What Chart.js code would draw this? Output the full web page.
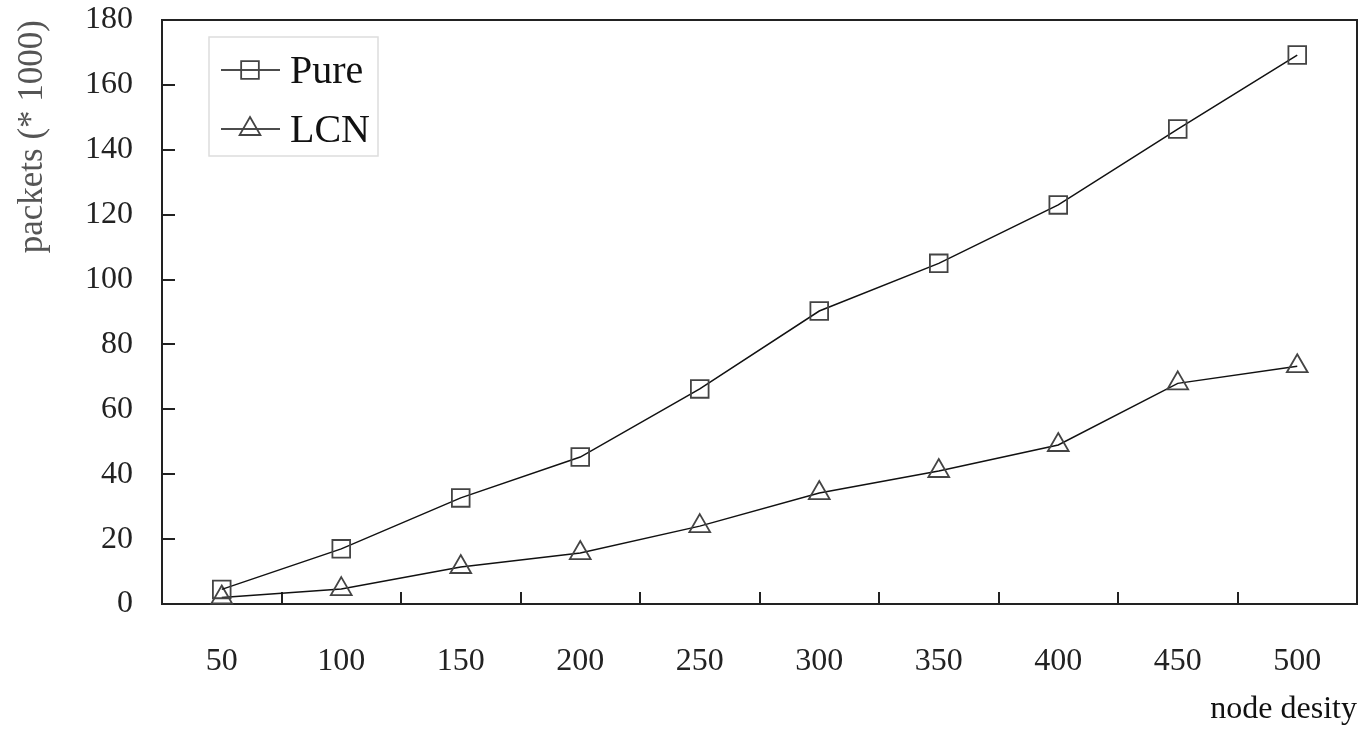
<!DOCTYPE html>
<html>
<head>
<meta charset="utf-8">
<script src="https://cdn.jsdelivr.net/npm/chart.js@4/dist/chart.umd.min.js"></script>
<style>
  html, body { margin: 0; padding: 0; background: #fff; }
  #chartContainer { display: block; }
</style>
</head>
<body>
<canvas id="chartContainer" width="1359" height="729"></canvas>
<script>
"use strict";

// 1: data
const categories = ['50', '100', '150', '200', '250', '300', '350', '400', '450', '500'];
const pureValues = [4.5, 17, 32.7, 45.3, 66.3, 90.3, 105, 123, 146.4, 169.2];
const lcnValues = [2, 4.6, 11.4, 15.7, 24, 34.2, 41, 49, 68, 73.3];
const yTicks = [0, 20, 40, 60, 80, 100, 120, 140, 160, 180];

const serif = 'Liberation Serif, Times New Roman, serif';

// 2: frame with inward tick marks
const framePlugin = {
  id: 'frame',
  beforeDatasetsDraw(chart) {
    const ctx = chart.ctx;
    const a = chart.chartArea;
    const x = chart.scales.x;
    const y = chart.scales.y;
    ctx.save();
    ctx.strokeStyle = '#222';
    ctx.lineWidth = 2;
    ctx.strokeRect(a.left, a.top, a.right - a.left, a.bottom - a.top);
    ctx.beginPath();
    for (let i = 1; i < categories.length; i++) {
      const px = Math.round(x.getPixelForValue(i - 0.5));
      ctx.moveTo(px, a.bottom);
      ctx.lineTo(px, a.bottom - 12);
    }
    for (const v of yTicks) {
      if (v === yTicks[0] || v === yTicks[yTicks.length - 1]) continue;
      const py = Math.round(y.getPixelForValue(v));
      ctx.moveTo(a.left, py);
      ctx.lineTo(a.left + 13, py);
    }
    ctx.stroke();
    ctx.restore();
  }
};

// 3: legend box inside the plot
const legendPlugin = {
  id: 'boxLegend',
  afterDraw(chart) {
    const ctx = chart.ctx;
    const a = chart.chartArea;
    const bx = a.left + 47, by = a.top + 17;
    ctx.save();
    ctx.strokeStyle = '#ddd';
    ctx.lineWidth = 1.5;
    ctx.strokeRect(bx, by, 169, 119);
    chart.data.datasets.forEach((ds, i) => {
      const cy = by + 33 + i * 59;
      ctx.strokeStyle = ds.borderColor;
      ctx.lineWidth = ds.borderWidth;
      ctx.beginPath();
      ctx.moveTo(bx + 12, cy);
      ctx.lineTo(bx + 71, cy);
      ctx.stroke();
      ctx.strokeStyle = ds.pointBorderColor;
      ctx.fillStyle = 'rgba(0,0,0,0)';
      ctx.lineWidth = ds.pointBorderWidth;
      Chart.helpers.drawPoint(ctx, {
        pointStyle: ds.pointStyle,
        radius: ds.pointRadius,
        rotation: 0,
        borderWidth: ds.pointBorderWidth
      }, bx + 41, cy);
      ctx.fillStyle = '#111';
      ctx.font = '40px ' + serif;
      ctx.textBaseline = 'middle';
      ctx.textAlign = 'left';
      ctx.fillText(ds.label, bx + 81, cy + 2);
    });
    ctx.restore();
  }
};

// 4: chart
function appendChart() {
  const chartContainer = document.getElementById('chartContainer');
  new Chart(chartContainer, {
    type: 'line',
    data: {
      labels: categories,
      datasets: [{
        label: 'Pure',
        data: pureValues,
        borderColor: '#111',
        borderWidth: 1.5,
        pointStyle: 'rect',
        pointRadius: 12.5,
        pointBorderColor: '#444',
        pointBorderWidth: 1.8,
        pointBackgroundColor: 'rgba(0,0,0,0)',
        tension: 0,
        clip: false
      }, {
        label: 'LCN',
        data: lcnValues,
        borderColor: '#111',
        borderWidth: 1.5,
        pointStyle: 'triangle',
        pointRadius: 12,
        pointBorderColor: '#444',
        pointBorderWidth: 1.8,
        pointBackgroundColor: 'rgba(0,0,0,0)',
        tension: 0,
        clip: false
      }]
    },
    options: {
      responsive: false,
      animation: false,
      devicePixelRatio: 1,
      layout: { autoPadding: false, padding: { left: 8, right: 2, top: 20, bottom: 0 } },
      plugins: {
        legend: { display: false },
        tooltip: { enabled: false }
      },
      scales: {
        x: {
          type: 'category',
          offset: true,
          grid: { display: false, offset: true },
          border: { display: false },
          ticks: { font: { family: serif, size: 32 }, color: '#222', padding: 30 },
          title: {
            display: true,
            text: 'node desity',
            align: 'end',
            color: '#111',
            font: { family: serif, size: 32 },
            padding: { top: 0, bottom: 0 }
          },
          afterFit(s) {
            s.height = 125;
            s.paddingLeft = 0;
            s.paddingRight = 0;
          }
        },
        y: {
          min: 0,
          max: 180,
          grid: { display: false },
          border: { display: false },
          ticks: { stepSize: 20, font: { family: serif, size: 32 }, color: '#222', padding: 21 },
          title: {
            display: true,
            text: 'packets (* 1000)',
            align: 'end',
            color: '#555',
            font: { family: serif, size: 35 }
          },
          afterFit(s) {
            s.width = 154;
            s.paddingTop = 0;
            s.paddingBottom = 0;
          }
        }
      }
    },
    plugins: [framePlugin, legendPlugin]
  });
}

appendChart();
</script>
</body>
</html>
